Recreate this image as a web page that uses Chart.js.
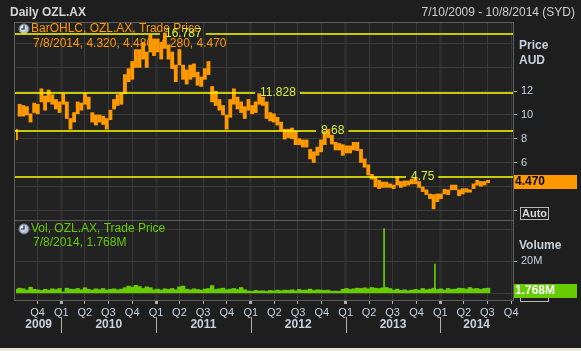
<!DOCTYPE html>
<html>
<head>
<meta charset="utf-8">
<script src="https://cdn.jsdelivr.net/npm/chart.js@4.4.1/dist/chart.umd.min.js"></script>
<style>
  html, body { margin: 0; padding: 0; background: #1e1e1e; }
  #wrap { position: relative; width: 581px; height: 351px; overflow: hidden; background: #1e1e1e; font-family: 'Liberation Sans', Arial, sans-serif; }
  #price { position: absolute; left: 0; top: 0; }
  #vol { position: absolute; left: 0; top: 220px; }
  #title { position: absolute; left: 10px; top: 5px; color: #d6d6d6; font-weight: bold; font-size: 12px; }
  #range { position: absolute; right: 6px; top: 5px; color: #d0d0d0; font-size: 12px; }
  #foot { position: absolute; left: 0; bottom: 0; width: 581px; height: 3px; background: #e9e6da; }
</style>
</head>
<body>
<div id="wrap">
  <canvas id="price" width="581" height="222"></canvas>
  <canvas id="vol" width="581" height="131"></canvas>
  <div id="title">Daily OZL.AX</div>
  <div id="range">7/10/2009 - 10/8/2014 (SYD)</div>
  <div id="foot"></div>
</div>
<script>
// --- DATA (one bar per fortnight from startDate) ---
const startDate = '2009-07-10';
const endDate = '2014-10-08';
const periodDays = 14;

const priceLow = [
  7.9, 9.9, 9.9, 10.0, 9.4, 10.2, 10.1, 11.1, 10.4, 11.1,
  10.9, 10.5, 10.2, 10.9, 9.7, 8.8, 9.4, 10.1, 10.4, 10.9,
  10.5, 9.4, 9.15, 9.4, 9.2, 8.8, 9.6, 10.5, 10.8, 10.9,
  11.8, 12.8, 13.0, 14.0, 14.0, 14.7, 14.0, 15.3, 15.0, 15.3,
  14.7, 15.6, 14.7, 13.9, 12.8, 14.2, 13.0, 12.6, 13.0, 13.2,
  12.5, 12.4, 13.0, 13.4, 11.1, 10.8, 10.4, 10.0, 8.8, 9.8,
  10.9, 10.5, 10.2, 9.7, 10.4, 10.1, 10.2, 10.9, 10.8, 9.7,
  9.5, 9.4, 9.15, 8.7, 7.97, 8.1, 8.0, 7.5, 7.5, 7.3,
  7.3, 6.3, 6.0, 6.6, 6.9, 7.5, 8.1, 7.55, 7.05, 7.05,
  6.6, 6.8, 6.8, 7.05, 7.0, 6.0, 5.6, 4.95, 4.6, 3.95,
  3.8, 3.9, 3.9, 3.9, 3.8, 4.1, 3.9, 4.0, 4.1, 4.2,
  4.2, 3.9, 3.55, 3.3, 2.95, 2.1, 2.7, 2.95, 3.35, 3.3,
  3.7, 3.7, 3.2, 3.35, 3.5, 3.5, 3.8, 4.1, 4.0, 4.1,
  4.3
];
const priceHigh = [
  8.8, 10.9, 10.8, 10.7, 10.1, 11.0, 10.9, 12.2, 11.6, 12.1,
  11.7, 11.3, 11.1, 11.8, 11.1, 9.7, 10.2, 11.1, 11.0, 11.8,
  11.5, 10.2, 10.0, 10.0, 9.9, 9.7, 10.4, 11.3, 11.7, 11.8,
  13.4, 13.9, 14.5, 15.5, 15.5, 16.1, 15.3, 16.7, 16.4, 16.4,
  16.1, 16.9, 15.9, 15.3, 14.2, 15.5, 14.2, 13.8, 14.2, 14.3,
  13.6, 13.2, 13.9, 14.5, 12.4, 12.0, 11.3, 10.8, 10.0, 11.3,
  12.2, 11.5, 11.1, 10.7, 11.3, 10.8, 11.1, 11.8, 11.5, 11.1,
  10.2, 10.1, 9.8, 9.4, 8.8, 8.8, 8.9, 8.6, 8.0, 7.9,
  7.9, 7.1, 6.9, 7.3, 7.9, 8.6, 8.8, 8.3, 7.7, 7.6,
  7.5, 7.4, 7.4, 7.7, 7.7, 7.1, 6.3, 5.8, 5.0, 4.75,
  4.5, 4.35, 4.35, 4.2, 4.1, 4.8, 4.4, 4.45, 4.45, 4.6,
  4.7, 4.4, 3.95, 3.7, 3.35, 3.3, 3.35, 3.35, 3.75, 3.7,
  4.1, 4.1, 3.7, 3.8, 3.8, 3.7, 4.2, 4.5, 4.4, 4.4,
  4.5
];
// volume in millions of shares, typical daily level in each fortnight
const volumeM = [
  2.5, 3.2, 2.8, 2.0, 3.8, 2.5, 2.2, 1.8, 2.5, 2.0,
  2.8, 2.3, 3.0, 0.9, 3.2, 2.6, 2.4, 3.0, 2.2, 3.5,
  2.5, 2.0, 2.8, 2.3, 3.0, 2.0, 2.5, 2.8, 2.2, 2.6,
  3.5, 4.5, 3.8, 5.0, 4.2, 3.0, 4.0, 3.5, 2.2, 2.6,
  2.0, 2.8, 2.4, 3.0, 2.2, 4.0, 4.5, 2.6, 2.2, 2.8,
  2.4, 2.0, 2.6, 3.0, 4.8, 2.4, 2.8, 3.2, 2.2, 2.6,
  3.0, 2.4, 3.6, 2.2, 1.5, 1.2, 1.8, 1.4, 1.6, 1.2,
  1.8, 1.5, 2.0, 1.6, 2.0, 1.8, 2.2, 1.6, 2.4, 1.9,
  2.0, 2.6, 1.8, 2.2, 2.0, 1.8, 2.0, 1.2, 1.4, 1.2,
  2.5, 3.0, 2.4, 2.8, 3.2, 3.0, 3.4, 2.8, 3.6, 3.2,
  3.0, 3.4, 3.6, 3.0, 2.0, 2.6, 1.8, 2.2, 1.6, 2.0,
  2.4, 2.0, 3.0, 2.2, 2.6, 3.2, 2.4, 2.8, 2.0, 3.0,
  2.4, 2.6, 3.2, 3.0, 2.6, 3.6, 2.8, 3.0, 2.4, 3.0,
  3.2
];
const spikeDates = ['2013-05-29', '2013-12-11'];
const spikeVolumeM = [40.5, 18.2];

const levelValues = [16.787, 11.828, 8.68, 4.75];
const levelLabels = ['16.787', '11.828', '8.68', '4.75'];

const priceTicks = [2, 4, 6, 8, 10, 12, 14, 16];
const priceLabelled = [4, 6, 8, 10, 12];
const volumeTicks = [0, 20, 40];
const quarterNames = ['Q1', 'Q2', 'Q3', 'Q4'];
const years = [2009, 2010, 2011, 2012, 2013, 2014];
const lastPrice = '4.470';
const lastVolume = '1.768M';
const legendPrice = ['BarOHLC, OZL.AX, Trade Price', '7/8/2014, 4.320, 4.480, 4.280, 4.470'];
const legendVolume = ['Vol, OZL.AX, Trade Price', '7/8/2014, 1.768M'];

// --- STYLE ---
const ORANGE = '#ff9900';
const GREEN = '#66cc00';
const YELLOW = '#ffff00';
const LEVEL_TEXT = '#d8f040';
const AXIS_TEXT = '#c8d2de';
const GRID = '#3a3a3a';
const YEAR_GRID = '#2c2c2c';
const PLOT_BG = '#222222';
const FRAME = '#5c5c5c';
const FONT = "'Liberation Sans', Arial, sans-serif";
const levelLabelX = [165, 260, 321, 411];

// --- DATES ---
const t0 = Date.UTC(2009, 6, 10);
function dayOf(y, m, d) { return Math.round((Date.UTC(y, m, d) - t0) / 86400000); }
function dayIndex(iso) {
    const p = iso.split('-').map(Number);
    return dayOf(p[0], p[1] - 1, p[2]);
}
const minDay = dayIndex(startDate);
const maxDay = dayIndex(endDate);

const quarterTicks = [];
const quarterOf = {};
years.forEach(y => {
    [0, 3, 6, 9].forEach(m => {
        const d = dayOf(y, m, 1);
        if (d > minDay && d <= maxDay) {
            quarterTicks.push(d);
            quarterOf[d] = m / 3;
        }
    });
});
const yearStarts = years.map(y => dayOf(y, 0, 1));
const isYearStart = v => yearStarts.includes(v);

function txt(ctx, s, x, y, font, color, align) {
    ctx.font = font;
    ctx.fillStyle = color;
    ctx.textAlign = align || 'left';
    ctx.textBaseline = 'middle';
    ctx.fillText(s, x, y);
}

function clock(ctx, cx, cy) {
    const g = ctx.createRadialGradient(cx - 1.5, cy - 1.5, 0.5, cx, cy, 5.5);
    g.addColorStop(0, '#ffffff');
    g.addColorStop(1, '#8fa3bd');
    ctx.beginPath();
    ctx.arc(cx, cy, 5, 0, Math.PI * 2);
    ctx.fillStyle = g;
    ctx.fill();
    ctx.strokeStyle = '#6d7f96';
    ctx.lineWidth = 1;
    ctx.stroke();
    ctx.beginPath();
    ctx.moveTo(cx, cy - 3.5);
    ctx.lineTo(cx, cy);
    ctx.lineTo(cx - 3, cy);
    ctx.strokeStyle = '#111';
    ctx.lineWidth = 1.2;
    ctx.stroke();
}

function box(ctx, x, y, w, h, fill, stroke) {
    ctx.fillStyle = fill;
    ctx.fillRect(x, y, w, h);
    if (stroke) {
        ctx.strokeStyle = stroke;
        ctx.lineWidth = 1;
        ctx.strokeRect(x + 0.5, y + 0.5, w - 1, h - 1);
    }
}

// keep the plot area exactly where the padding puts it
function noPad(s) {
    s.paddingTop = 0;
    s.paddingBottom = 0;
    s.paddingLeft = 0;
    s.paddingRight = 0;
}

// plot background and frame for both panels
const framePlugin = {
    id: 'frame',
    beforeDraw(chart) {
        const a = chart.chartArea, ctx = chart.ctx;
        ctx.save();
        ctx.fillStyle = PLOT_BG;
        ctx.fillRect(a.left - 2, a.top, a.right - a.left + 2, a.bottom - a.top);
        ctx.restore();
    },
    afterDraw(chart) {
        const a = chart.chartArea, ctx = chart.ctx;
        ctx.save();
        ctx.strokeStyle = FRAME;
        ctx.lineWidth = 1;
        ctx.strokeRect(a.left - 1.5, a.top - 0.5, a.right - a.left + 2, a.bottom - a.top + 1);
        ctx.restore();
    }
};

const priceOverlay = {
    id: 'priceOverlay',
    beforeDatasetsDraw(chart) {
        const ctx = chart.ctx;
        ctx.save();
        clock(ctx, 24, 29);
        txt(ctx, legendPrice[0], 31, 29, '12px ' + FONT, ORANGE);
        txt(ctx, legendPrice[1], 33, 44, '12px ' + FONT, ORANGE);
        ctx.restore();
    },
    afterDatasetsDraw(chart) {
        const ctx = chart.ctx, a = chart.chartArea, ys = chart.scales.y;
        ctx.save();
        ctx.font = '12px ' + FONT;
        levelValues.forEach((v, i) => {
            const y = Math.round(ys.getPixelForValue(v));
            const w = ctx.measureText(levelLabels[i]).width;
            const gx0 = levelLabelX[i] - 5, gx1 = levelLabelX[i] + w + 4;
            ctx.strokeStyle = YELLOW;
            ctx.lineWidth = 1.5;
            ctx.beginPath();
            ctx.moveTo(a.left - 1, y); ctx.lineTo(gx0, y);
            ctx.moveTo(gx1, y); ctx.lineTo(a.right, y);
            ctx.stroke();
            txt(ctx, levelLabels[i], levelLabelX[i], y, '12px ' + FONT, LEVEL_TEXT);
        });
        ctx.restore();
    },
    afterDraw(chart) {
        const ctx = chart.ctx, ys = chart.scales.y;
        ctx.save();
        txt(ctx, 'Price', 519, 46, 'bold 12px ' + FONT, AXIS_TEXT);
        txt(ctx, 'AUD', 519, 61, 'bold 12px ' + FONT, AXIS_TEXT);
        const yp = Math.round(ys.getPixelForValue(4.47));
        box(ctx, 514, yp - 6, 63, 14, ORANGE);
        txt(ctx, lastPrice, 515, yp + 1, 'bold 12px ' + FONT, '#000');
        box(ctx, 520, 207, 29, 13, '#1e1e1e', '#b8b8b8');
        txt(ctx, 'Auto', 522, 214, 'bold 11px ' + FONT, '#d8d8d8');
        ctx.restore();
    }
};

const volumeOverlay = {
    id: 'volumeOverlay',
    beforeDatasetsDraw(chart) {
        const ctx = chart.ctx;
        ctx.save();
        clock(ctx, 24, 9);
        txt(ctx, legendVolume[0], 31, 9, '12px ' + FONT, GREEN);
        txt(ctx, legendVolume[1], 33, 23, '12px ' + FONT, GREEN);
        ctx.restore();
    },
    afterDraw(chart) {
        const ctx = chart.ctx, xs = chart.scales.x;
        ctx.save();
        txt(ctx, 'Volume', 519, 26, 'bold 12px ' + FONT, AXIS_TEXT);
        box(ctx, 520, 69, 29, 13, '#1e1e1e', '#b8b8b8');
        box(ctx, 514, 64, 63, 14, GREEN);
        txt(ctx, lastVolume, 515, 71, 'bold 12px ' + FONT, '#ffffff');
        // year row under the quarter labels
        years.forEach(y => {
            const s = Math.max(minDay, dayOf(y, 0, 1));
            const e = Math.min(maxDay, dayOf(y + 1, 0, 1));
            const cx = (xs.getPixelForValue(s) + xs.getPixelForValue(e)) / 2;
            txt(ctx, String(y), cx, 105, 'bold 12px ' + FONT, AXIS_TEXT, 'center');
            const d = dayOf(y, 0, 1);
            if (d > minDay && d < maxDay) {
                const x = Math.round(xs.getPixelForValue(d)) + 0.5;
                ctx.strokeStyle = '#b0b0b0';
                ctx.lineWidth = 1;
                ctx.beginPath();
                ctx.moveTo(x, 97); ctx.lineTo(x, 113);
                ctx.stroke();
            }
        });
        ctx.restore();
    }
};

const xGrid = {
    offset: false,
    color: c => (c.tick && isYearStart(c.tick.value)) ? YEAR_GRID : GRID,
    lineWidth: c => (c.tick && isYearStart(c.tick.value)) ? 3 : 1
};

// --- PRICE PANEL ---
new Chart(document.getElementById('price'), {
    type: 'bar',
    data: {
        datasets: [{
            data: priceLow.map((lo, i) => ({ x: minDay + i * periodDays, y: [lo, priceHigh[i]] })),
            backgroundColor: ORANGE,
            barThickness: 3.2,
            grouped: false
        }]
    },
    options: {
        responsive: false,
        animation: false,
        devicePixelRatio: 1,
        layout: { padding: { left: 16, top: 23, right: 0, bottom: 2 } },
        plugins: { legend: { display: false }, tooltip: { enabled: false } },
        scales: {
            x: {
                type: 'linear', min: minDay, max: maxDay, offset: false,
                afterBuildTicks: s => { s.ticks = quarterTicks.map(v => ({ value: v })); },
                afterFit: s => { s.height = 0; noPad(s); },
                ticks: { display: false },
                grid: Object.assign({ drawTicks: false }, xGrid),
                border: { display: false }
            },
            y: {
                position: 'right', min: 1.16, max: 17.74,
                afterBuildTicks: s => { s.ticks = priceTicks.map(v => ({ value: v })); },
                afterFit: s => { s.width = 68; noPad(s); },
                ticks: {
                    color: AXIS_TEXT, padding: 4, font: { family: FONT, size: 11 },
                    callback: v => priceLabelled.includes(v) ? String(v) : ''
                },
                grid: {
                    color: GRID, tickLength: 4,
                    tickColor: c => (c.tick && c.tick.value <= 12) ? '#b0b0b0' : 'rgba(0,0,0,0)'
                },
                border: { display: false }
            }
        }
    },
    plugins: [framePlugin, priceOverlay]
});

// --- VOLUME PANEL ---
new Chart(document.getElementById('vol'), {
    type: 'bar',
    data: {
        datasets: [{
            data: volumeM.map((v, i) => ({ x: minDay + i * periodDays, y: v })),
            backgroundColor: GREEN,
            barThickness: 3.7,
            grouped: false
        }, {
            data: spikeDates.map((d, i) => ({ x: dayIndex(d), y: spikeVolumeM[i] })),
            backgroundColor: GREEN,
            barThickness: 1,
            grouped: false
        }]
    },
    options: {
        responsive: false,
        animation: false,
        devicePixelRatio: 1,
        layout: { padding: { left: 16, top: 1, right: 0, bottom: 0 } },
        plugins: { legend: { display: false }, tooltip: { enabled: false } },
        scales: {
            x: {
                type: 'linear', min: minDay, max: maxDay, offset: false,
                afterBuildTicks: s => { s.ticks = quarterTicks.map(v => ({ value: v })); },
                afterFit: s => { s.height = 51; noPad(s); },
                ticks: {
                    color: AXIS_TEXT, padding: 2, maxRotation: 0, autoSkip: false,
                    font: { family: FONT, size: 11 },
                    callback: v => quarterNames[quarterOf[v]]
                },
                grid: Object.assign({ tickLength: 4, tickColor: '#b0b0b0' }, xGrid),
                border: { display: false }
            },
            y: {
                position: 'right', min: -4.2, max: 45.2,
                afterBuildTicks: s => { s.ticks = volumeTicks.map(v => ({ value: v })); },
                afterFit: s => { s.width = 68; noPad(s); },
                ticks: {
                    color: AXIS_TEXT, padding: 4, font: { family: FONT, size: 11 },
                    callback: v => v === 20 ? '20M' : ''
                },
                grid: {
                    color: GRID, tickLength: 4,
                    tickColor: c => (c.tick && c.tick.value === 20) ? '#b0b0b0' : 'rgba(0,0,0,0)'
                },
                border: { display: false }
            }
        }
    },
    plugins: [framePlugin, volumeOverlay]
});
</script>
</body>
</html>
